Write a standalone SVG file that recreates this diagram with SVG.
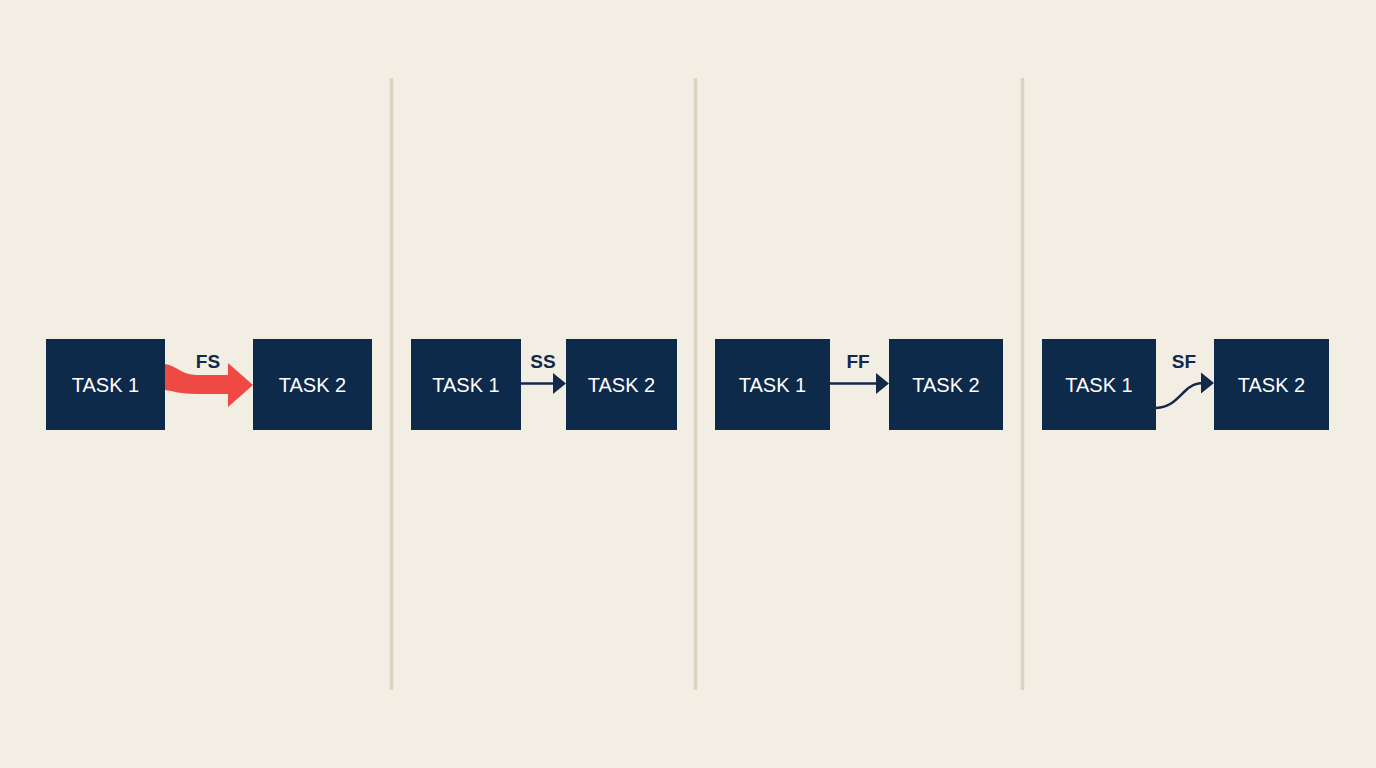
<svg xmlns="http://www.w3.org/2000/svg" width="1376" height="768" viewBox="0 0 1376 768">
<style>
.box{fill:#0e2a4a;}
.t{font-family:"Liberation Sans",Arial,sans-serif;font-size:20px;fill:#ffffff;text-anchor:middle;}
.lbl{font-family:"Liberation Sans",Arial,sans-serif;font-size:19px;font-weight:bold;fill:#13294a;text-anchor:middle;}
.div{stroke:#dbd2c1;stroke-width:3.5;}
.ln{fill:none;stroke:#13294a;stroke-width:2.5;}
.hd{fill:#13294a;}
</style>
<rect width="1376" height="768" fill="#f3eee3"/>
<g id="dividers">
<line class="div" x1="391.5" y1="78" x2="391.5" y2="690"/>
<line class="div" x1="695.5" y1="78" x2="695.5" y2="690"/>
<line class="div" x1="1022.5" y1="78" x2="1022.5" y2="690"/>
</g>
<g id="p1-task1"><rect class="box" x="46" y="339" width="119" height="91"/><text class="t" x="105.5" y="391.5">TASK 1</text></g>
<g id="p1-task2"><rect class="box" x="253" y="339" width="119" height="91"/><text class="t" x="312.5" y="391.5">TASK 2</text></g>
<g id="p2-task1"><rect class="box" x="411" y="339" width="110" height="91"/><text class="t" x="466" y="391.5">TASK 1</text></g>
<g id="p2-task2"><rect class="box" x="566" y="339" width="111" height="91"/><text class="t" x="621.5" y="391.5">TASK 2</text></g>
<g id="p3-task1"><rect class="box" x="715" y="339" width="115" height="91"/><text class="t" x="772.5" y="391.5">TASK 1</text></g>
<g id="p3-task2"><rect class="box" x="889" y="339" width="114" height="91"/><text class="t" x="946" y="391.5">TASK 2</text></g>
<g id="p4-task1"><rect class="box" x="1042" y="339" width="114" height="91"/><text class="t" x="1099" y="391.5">TASK 1</text></g>
<g id="p4-task2"><rect class="box" x="1214" y="339" width="115" height="91"/><text class="t" x="1271.5" y="391.5">TASK 2</text></g>
<g id="connectors">
<path d="M165,364 C177,366 182,375 196,375 L228,375 L228,363 L253,385 L228,407 L228,394 L196,394 C181,394 173,391 165,390 Z" fill="#ee4a43"/>
<text class="lbl" x="208" y="368">FS</text>
<line class="ln" x1="521" y1="383.5" x2="556" y2="383.5"/>
<polygon class="hd" points="553,373 566,383.5 553,394"/>
<text class="lbl" x="543" y="368">SS</text>
<line class="ln" x1="830" y1="383.5" x2="879" y2="383.5"/>
<polygon class="hd" points="876,373 889,383.5 876,394"/>
<text class="lbl" x="858" y="368">FF</text>
<path class="ln" d="M1156,408 C1170,407 1176,400 1184,392 C1191,385 1196,383 1204,383"/>
<polygon class="hd" points="1201,372.5 1214,383 1201,393.5"/>
<text class="lbl" x="1184" y="368">SF</text>
</g>
</svg>
